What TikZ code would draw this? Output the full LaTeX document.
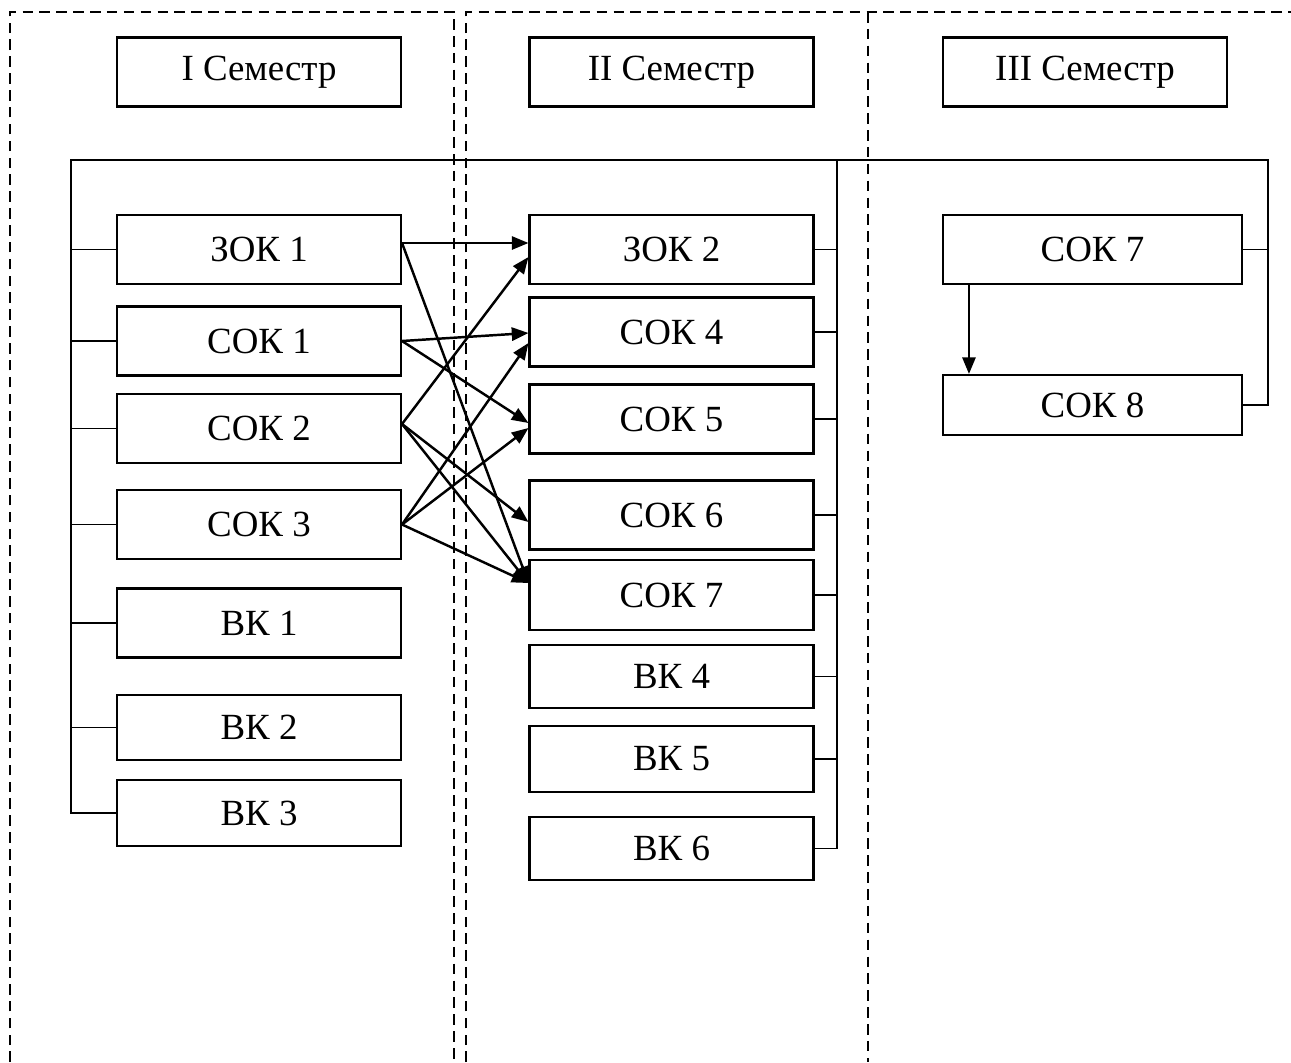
\documentclass[tikz,border=0pt]{standalone}
\usepackage{fontspec}
\setmainfont{Liberation Serif}
\usetikzlibrary{arrows.meta}

\begin{document}
\begin{tikzpicture}[x=0.02cm, y=0.02cm]
		\tikzstyle{every node}+=[inner sep=0pt]
		\tikzstyle{box}=[draw, line width=1.2pt, minimum width=5.68cm, minimum height=1.38cm, font=\fontsize{21}{25}\selectfont]
		\tikzstyle{bus}=[line width=1.1pt]
		\tikzstyle{link}=[line width=1.4pt, -{Triangle[length=9.5pt,width=7.5pt]}]
		\tikzstyle{frame}=[line width=1.1pt, dash pattern=on 6pt off 3.6pt]
		\useasboundingbox (0,0) rectangle (1291,-1062);
		% semester frames
		\draw [frame] (10,-1062) -- (10,-12) -- (454,-12) -- (454,-1062);
		\draw [frame] (466,-1062) -- (466,-12) -- (1291,-12);
		\draw [frame] (868,-12) -- (868,-1062);
		% headers
		\node [box] (sem1) at (259,-72) {I Семестр};
		\node [box] (sem2) at (671.5,-72) {II Семестр};
		\node [box] (sem3) at (1085,-72) {III Семестр};
		% semester I
		\node [box] (zok1) at (259,-249.5) {ЗОК 1};
		\node [box] (sok1) at (259,-341) {СОК 1};
		\node [box] (sok2) at (259,-428.5) {СОК 2};
		\node [box] (sok3) at (259,-524.5) {СОК 3};
		\node [box] (vk1) at (259,-623) {ВК 1};
		\node [box, minimum height=1.3cm] (vk2) at (259,-727.5) {ВК 2};
		\node [box, minimum height=1.32cm] (vk3) at (259,-813) {ВК 3};
		% semester II
		\node [box] (zok2) at (671.5,-249.5) {ЗОК 2};
		\node [box] (sok4) at (671.5,-332) {СОК 4};
		\node [box] (sok5) at (671.5,-419) {СОК 5};
		\node [box] (sok6) at (671.5,-515) {СОК 6};
		\node [box, minimum height=1.4cm] (sok7) at (671.5,-595) {СОК 7};
		\node [box, minimum height=1.26cm] (vk4) at (671.5,-676.5) {ВК 4};
		\node [box, minimum height=1.32cm] (vk5) at (671.5,-759) {ВК 5};
		\node [box, minimum height=1.26cm] (vk6) at (671.5,-848.5) {ВК 6};
		% semester III
		\node [box, minimum width=5.98cm] (sok7c) at (1092.5,-249.5) {СОК 7};
		\node [box, minimum width=5.98cm, minimum height=1.2cm] (sok8) at (1092.5,-405) {СОК 8};
		% common bus
		\coordinate (busL) at (71,-160);
		\coordinate (busM) at (837,-160);
		\coordinate (busR) at (1268,-160);
		\draw [bus] (vk3.west) -| (busL) -- (busR) |- (sok8.east);
		\draw [bus] (busM) |- (vk6.east);
		\foreach \n in {zok1,sok1,sok2,sok3,vk1,vk2}
			\draw [bus] (\n.west) -- (\n.west -| busL);
		\foreach \n in {zok2,sok4,sok5,sok6,sok7,vk4,vk5}
			\draw [bus] (\n.east) -- (\n.east -| busM);
		\draw [bus] (sok7c.east) -- (sok7c.east -| busR);
		% prerequisites
		\draw [link] ([yshift=0.13cm]zok1.east) -- ([yshift=0.13cm]zok2.west);
		\draw [link] ([yshift=0.13cm]zok1.east) -- ([yshift=0.24cm]sok7.west);
		\draw [link] (sok1.east) -- ([yshift=-0.02cm]sok4.west);
		\draw [link] (sok1.east) -- ([yshift=-0.08cm]sok5.west);
		\draw [link] ([yshift=0.09cm]sok2.east) -- ([yshift=-0.15cm]zok2.west);
		\draw [link] ([yshift=0.09cm]sok2.east) -- ([yshift=-0.14cm]sok6.west);
		\draw [link] ([yshift=0.09cm]sok2.east) -- ([yshift=0.24cm]sok7.west);
		\draw [link] (sok3.east) -- ([yshift=-0.22cm]sok4.west);
		\draw [link] (sok3.east) -- ([yshift=-0.18cm]sok5.west);
		\draw [link] (sok3.east) -- ([yshift=0.24cm]sok7.west);
		\draw [link] ([xshift=0.54cm]sok7c.south west) -- ([xshift=0.54cm]sok8.north west);
	\end{tikzpicture}
\end{document}
